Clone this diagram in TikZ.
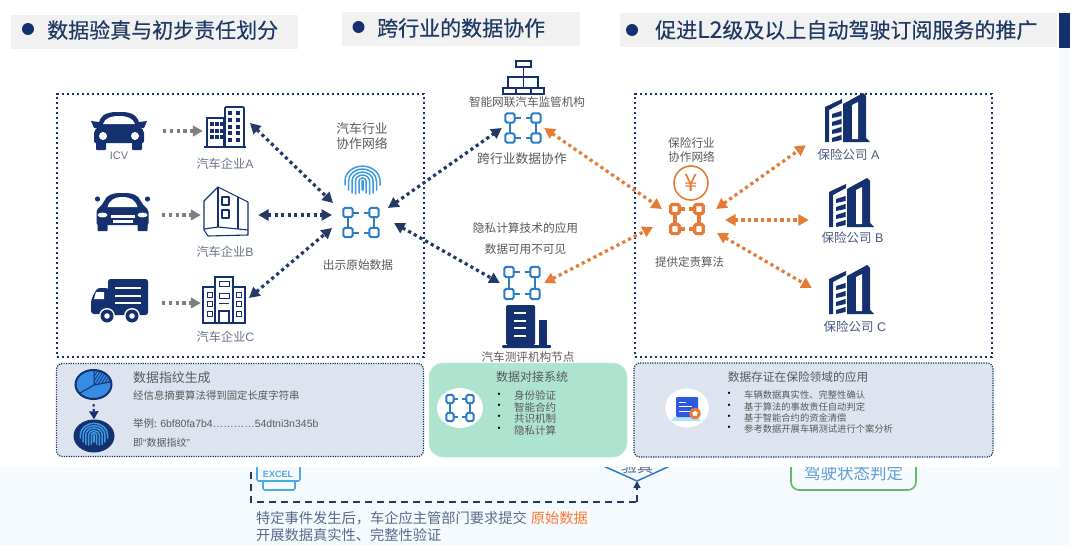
\documentclass[tikz,border=0pt]{standalone}
\usepackage{fontspec}
\setmainfont{Noto Sans CJK SC}
\newfontfamily\headfont[FakeBold=0.35]{Noto Sans CJK SC}
\newfontfamily\arialfont{Liberation Sans}
\usetikzlibrary{arrows.meta,calc,positioning,shapes.geometric}
\definecolor{navy}{HTML}{14306F}
\definecolor{arrownavy}{HTML}{243A66}
\definecolor{headtext}{HTML}{1F3864}
\definecolor{headgray}{HTML}{F1F1F1}
\definecolor{bandblue}{HTML}{F5FAFF}
\definecolor{netblue}{HTML}{2E7CC4}
\definecolor{netorange}{HTML}{E57B36}
\definecolor{tipgray}{HTML}{7F7F7F}
\definecolor{labgray}{HTML}{6A7488}
\definecolor{infofill}{HTML}{DDE4EF}
\definecolor{dockgreen}{HTML}{AEE3D0}
\definecolor{printblue}{HTML}{3C9BE0}
\definecolor{excelblue}{HTML}{4DA8E4}
\definecolor{bandtext}{HTML}{5A6A8A}
\newcommand{\fsz}[1]{\fontsize{#1}{#1}\selectfont}
\newcommand{\chainlw}{2pt}
\tikzset{
  lab/.style={inner sep=0pt,text=labgray,font=\fsz{#1}},
  darktxt/.style={inner sep=0pt,text=black!65,font=\fsz{#1}},
  headbox/.style={fill=headgray,inner sep=0pt},
  headtxt/.style={inner sep=0pt,anchor=west,text=headtext,font=\headfont\fsz{21}},
  iconbox/.style={inner sep=0pt,minimum width=#1},
  panelbox/.style={draw=navy,line width=2.6pt,dash pattern=on 2.4pt off 2.6pt,inner sep=0pt},
  infobox/.style={fill=infofill,draw=navy,line width=1.2pt,dash pattern=on 1.2pt off 1.2pt,rounded corners=6pt,inner sep=0pt},
  dotarrow/.style={line width=3.2pt,dash pattern=on 3.2pt off 3.3pt,>={Triangle[length=10.5pt,width=11pt]},<->},
  graydots/.style={tipgray,line width=3.2pt,dash pattern=on 3.2pt off 3.5pt,-{Triangle[length=10pt,width=10.5pt]}},
  % four linked squares
  pics/chainnet/.style={code={
    \foreach \px/\py in {-13/-10,13/-10,-13/10,13/10}{
      \draw[line width=\chainlw,rounded corners=1.5pt] (\px-4.6,\py-4.6) rectangle (\px+4.6,\py+4.6);
    }
    \foreach \py in {-10,10}{
      \draw[line width=\chainlw] (-8.5,\py) -- (-2.5,\py);
      \draw[line width=\chainlw] (2.5,\py) -- (8.5,\py);
    }
    \foreach \px in {-13,13}{ \draw[line width=\chainlw] (\px,-5.5) -- (\px,5.5); }
  }},
  pics/fingerprint/.style={code={
    \foreach \rr/\hh in {0.5/9,3.5/12,7/13,10.5/12,14/9,17.5/4}{
      \draw[line width=1.5pt,line cap=round] (-\rr,\hh) -- (-\rr,0)
        arc[start angle=180,end angle=0,x radius=\rr pt,y radius=0.85*\rr pt] -- (\rr,\hh);
    }
  }},
  % dark tower with a striped wing
  pics/insurer/.style={code={
    \fill[navy] (0,-35) -- (17,-43) -- (17,-39) -- (4,-32) -- (4,0) -- (0,0) -- cycle;
    \foreach \sy in {-28,-20,-12,-4}{
      \fill[navy] (7,\sy) -- (16.5,\sy-3) -- (16.5,\sy+2) -- (7,\sy+4) -- cycle;
    }
    \fill[navy] (18,-38) -- (38,-49) -- (41,-46) -- (41,-4) -- (45,0) -- (18,0) -- cycle;
    \fill[white] (27,-37) -- (33,-40) -- (33,-3) -- (27,-3) -- cycle;
  }},
}
\begin{document}
\begin{tikzpicture}[x=1pt,y=-1pt]
\useasboundingbox (0,0) rectangle (1080,554);
% band under the main panel
\fill[bandblue] (0,460) rectangle (1070,545);
\fill[bandblue] (1059,40) rectangle (1070,460);
\fill[navy] (1059,13) rectangle (1070,48);
% what shows of the lower slide
\coordinate (dashTop) at (251,460);
\coordinate (dashCorner) at (251,502);
\coordinate (dashEnd) at (637,502);
\coordinate (vTip) at (637,481);
\coordinate (vLeft) at (590,460);
\coordinate (vRight) at (683,460);
\draw[arrownavy,line width=1.5pt,dash pattern=on 7pt off 5pt] (dashTop) -- (dashCorner) -- (dashEnd);
\draw[arrownavy,line width=1.5pt,dash pattern=on 7pt off 5pt,-{Triangle[length=7pt,width=7pt]}] (dashEnd) -- (vTip);
\draw[netblue,line width=1.5pt] (vLeft) -- (vTip) -- (vRight);
\node[lab=16,text=bandtext] (verifyTxt) at (637,466) {验真};
\draw[excelblue,line width=1.6pt,rounded corners=2pt] (257,450) rectangle (300,481);
\draw[excelblue,line width=1.6pt,rounded corners=2pt] (263,481) -- (263,490) -- (295,490) -- (295,481);
\node[inner sep=0pt,text=excelblue,font=\arialfont\bfseries\fsz{9}] (excelTag) at (278,474) {EXCEL};
\draw[green!55!black!60!white,line width=1.6pt,rounded corners=8pt] (791,440) rectangle (916,490);
\node[lab=16.5,text=netblue!75!white] (stateTxt) at (853.5,473) {驾驶状态判定};
\node[lab=14.25,text=bandtext,anchor=west] (eventTxtA) at (256,518) {特定事件发生后，车企应主管部门要求提交\hspace{4pt}\textcolor{orange!70!red!80!white}{原始数据}};
\node[lab=14.25,text=bandtext,anchor=west] (eventTxtB) at (256,535) {开展数据真实性、完整性验证};
% white main panel
\fill[white] (0,0) rectangle (1059,467);
% headings
\node[headbox,minimum width=287pt,minimum height=34pt] (headA) at (154.5,32) {};
\node[headbox,minimum width=238pt,minimum height=34pt] (headB) at (461,29) {};
\node[headbox,minimum width=437pt,minimum height=34pt] (headC) at (838.5,30) {};
\foreach \bx/\by in {28/29,358.5/27,632/30}{ \fill[navy] (\bx,\by) circle[radius=6pt]; }
\node[headtxt] (headTxtA) at (47,30) {数据验真与初步责任划分};
\node[headtxt] (headTxtB) at (377,28) {跨行业的数据协作};
\node[headtxt] (headTxtC) at (655,30) {促进{\fsz{23}L2}级及以上自动驾驶订阅服务的推广};
% dotted panels
\node[panelbox,minimum width=367pt,minimum height=263pt] (panelCar) at (240.5,225.5) {};
\node[panelbox,minimum width=357pt,minimum height=263pt] (panelIns) at (813.5,225.5) {};
\node[infobox,minimum width=367pt,minimum height=93pt] (infoPrint) at (240,410) {};
\node[infobox,minimum width=359pt,minimum height=94pt] (infoIns) at (813.5,410) {};
\node[fill=dockgreen,draw=dockgreen!70!white,line width=1pt,dash pattern=on 1pt off 1pt,rounded corners=14pt,inner sep=0pt,minimum width=198pt,minimum height=94pt] (infoDock) at (528,410) {};
% anchors of the icons
\node[iconbox=88pt] (carIcv) at (119,131) {};
\node[iconbox=80pt] (carSedan) at (122,215) {};
\node[iconbox=84pt] (carTruck) at (120,303) {};
\node[iconbox=47pt] (firmA) at (226.5,131) {};
\node[iconbox=57pt] (firmB) at (229.5,215) {};
\node[iconbox=48pt] (firmC) at (225,303) {};
\node[iconbox=58pt] (netCar) at (361,222.5) {};
\node[iconbox=42pt] (netReg) at (523,128) {};
\node[iconbox=44pt] (netTest) at (522,283) {};
\node[iconbox=50pt] (netIns) at (687,219) {};
\node[iconbox=82pt,minimum height=54pt] (insA) at (847,118) {};
\node[iconbox=86pt] (insB) at (852,220) {};
\node[iconbox=80pt] (insC) at (852,288) {};
% gray arrows
\draw[graydots] (carIcv.east) -- (firmA.west);
\draw[graydots] (carSedan.east) -- (firmB.west);
\draw[graydots] (carTruck.east) -- (firmC.west);
% navy arrows
\draw[dotarrow,arrownavy] ([shift={(23.5,-8)}]firmA.center) -- ([shift={(-28,-19.5)}]netCar.center);
\draw[dotarrow,arrownavy] (firmB.east) -- ([shift={(-29,-7.5)}]netCar.center);
\draw[dotarrow,arrownavy] ([shift={(24,-5)}]firmC.center) -- ([shift={(-29,5.5)}]netCar.center);
\draw[dotarrow,arrownavy] ([shift={(27,-14.5)}]netCar.center) -- (netReg.west);
\draw[dotarrow,arrownavy] ([shift={(33,0.5)}]netCar.center) -- (netTest.west);
% orange arrows
\draw[dotarrow,netorange] (netReg.east) -- ([shift={(-25,-10)}]netIns.center);
\draw[dotarrow,netorange] (netTest.east) -- ([shift={(-34,8)}]netIns.center);
\draw[dotarrow,netorange] ([shift={(29,-10)}]netIns.center) -- (insA.south west);
\draw[dotarrow,netorange] ([shift={(38,1)}]netIns.center) -- (insB.west);
\draw[dotarrow,netorange] ([shift={(30,14)}]netIns.center) -- (insC.west);
% chain icons
\pic[netblue] at (netCar) {chainnet};
\pic[netblue] at (netReg) {chainnet};
\pic[netblue,yscale=1.1] at (netTest) {chainnet};
\begingroup
\renewcommand{\chainlw}{3.2pt}
\pic[netorange,xscale=0.92] at (netIns) {chainnet};
\endgroup
\pic[printblue] at (362.5,181) {fingerprint};
% sedan seen from the front
\begin{scope}[shift={(119,131)},navy]
  \fill (-28,-10) -- (-20,-9) -- (-20,-3) -- (-25,-3) -- cycle;
  \fill (28,-10) -- (20,-9) -- (20,-3) -- (25,-3) -- cycle;
  \fill[rounded corners=2pt] (-21,-4) .. controls (-19,-15) and (-14,-19) .. (0,-19) .. controls (14,-19) and (19,-15) .. (21,-4) -- (25,0) -- (25,12) -- (-25,12) -- (-25,0) -- cycle;
  \fill[rounded corners=1pt] (-23,8) rectangle (-13,19);
  \fill[rounded corners=1pt] (13,8) rectangle (23,19);
  \fill[white] (-16,-7) .. controls (-14,-13) and (-8,-15) .. (0,-15) .. controls (8,-15) and (14,-13) .. (16,-7) -- cycle;
  \fill[white] (-16,5) circle[radius=4pt];
  \fill[white] (16,5) circle[radius=4pt];
\end{scope}
% second sedan, with a grille
\begin{scope}[shift={(122.5,212)},navy]
  \fill (-25,-13) circle[radius=2.6pt];
  \fill (25,-13) circle[radius=2.6pt];
  \fill[rounded corners=2pt] (-19,-9) .. controls (-16,-17) and (-10,-19) .. (0,-19) .. controls (10,-19) and (16,-17) .. (19,-9) -- (26,-2) -- (26,13) -- (-26,13) -- (-26,-2) -- cycle;
  \fill[rounded corners=1pt] (-25,10) rectangle (-15,19);
  \fill[rounded corners=1pt] (15,10) rectangle (25,19);
  \fill[white] (-15,-5) .. controls (-13,-12) and (-8,-15) .. (0,-15) .. controls (8,-15) and (13,-12) .. (15,-5) -- cycle;
  \fill[white] (-20,3) ellipse[x radius=5pt,y radius=2.4pt];
  \fill[white] (20,3) ellipse[x radius=5pt,y radius=2.4pt];
  \fill[white] (-12,3) rectangle (12,5.5);
  \fill[white] (-10,8) rectangle (10,10.5);
\end{scope}
% truck
\begin{scope}[navy]
  \fill[rounded corners=2.5pt] (108,279) rectangle (148,315);
  \fill[rounded corners=3pt] (109,288) -- (97,288) -- (91,300) -- (91,314) -- (109,314) -- cycle;
  \fill[white] (96,292) -- (104,292) -- (104,299) -- (94,299) -- cycle;
  \foreach \ly in {288,296,303}{ \fill[white] (115,\ly-1.3) rectangle (141,\ly+1.3); }
  \foreach \wx in {107,132}{
    \fill[white] (\wx,316) circle[radius=8pt];
    \fill (\wx,316) circle[radius=6.5pt];
    \fill[white] (\wx,316) circle[radius=2.8pt];
  }
\end{scope}
% firm A, twin blocks
\begin{scope}[navy]
  \draw[line width=1.8pt] (204,147) -- (246,147);
  \draw[line width=1.6pt] (207,147) -- (207,118) -- (224,118) -- (224,147);
  \draw[line width=1.6pt,rounded corners=1pt] (225,147) -- (225,107) -- (244,107) -- (244,147);
  \foreach \wx in {212,217,222}{ \foreach \wy in {124,131,137}{ \fill (\wx-1.7,\wy-1.7) rectangle (\wx+1.7,\wy+1.7); } }
  \foreach \wx in {230,238}{ \foreach \wy in {113,120,127,133,140}{ \fill (\wx-2,\wy-1.7) rectangle (\wx+2,\wy+1.7); } }
\end{scope}
% firm B, corner building
\begin{scope}[navy,line width=1.1pt,line join=round]
  \draw (204,230) -- (204,201) -- (218,187) -- (238,197) -- (248,202) -- (248,235) -- (208,236) -- (204,230);
  \draw (218,187) -- (218,227) (238,197) -- (238,229);
  \draw (204,229) -- (218,227) -- (248,230);
  \draw (222,197) rectangle (229,205);
  \draw (222,210) rectangle (229,218);
\end{scope}
% firm C, office block
\begin{scope}[navy,line width=1.5pt]
  \draw (203,287) rectangle (245,323);
  \draw[fill=white] (215,277) rectangle (233,323);
  \draw (219,323) -- (219,311) -- (229,311) -- (229,323);
  \foreach \wy in {292,301}{ \draw[line width=1pt] (207,\wy) rectangle (212,\wy+5); \draw[line width=1pt] (236,\wy) rectangle (241,\wy+5); }
  \draw[line width=1pt] (207,311) rectangle (212,316);
  \draw[line width=1pt] (236,311) rectangle (241,316);
  \draw[line width=1pt] (219,281) rectangle (229,286);
  \draw[line width=1pt] (219,293) rectangle (229,298);
  \draw[line width=1pt] (219,303) -- (229,303);
\end{scope}
% supervisor tree
\begin{scope}[navy,line width=1.6pt]
  \draw (516,61) rectangle (531,67);
  \draw (523.5,67) -- (523.5,77);
  \draw (508,77) rectangle (538,88);
  \draw (523.5,77) -- (523.5,88);
  \draw (503,88) rectangle (544,94);
  \draw (516,88) -- (516,94) (531,88) -- (531,94);
\end{scope}
% test centre block
\begin{scope}[navy]
  \fill[rounded corners=1.5pt] (506,345) -- (506,305) -- (535,305) -- (535,345) -- cycle;
  \fill (539,320) rectangle (547,345);
  \fill[rounded corners=1pt] (502,345) rectangle (551,348);
  \foreach \ly in {313,321,328,336}{ \fill[white] (514,\ly-1) rectangle (526,\ly+1); }
\end{scope}
% insurers
\pic at (825,142) {insurer};
\pic at (829,227) {insurer};
\pic at (829,314) {insurer};
% coin
\node[circle,draw=netorange,line width=1.6pt,minimum size=34pt,inner sep=0pt,text=netorange,font=\fsz{24}] (coin) at (691,183) {¥};
% pie and fingerprint badge
\node[ellipse,draw=navy,fill=printblue!90!blue,line width=2pt,minimum width=36pt,minimum height=29pt,inner sep=0pt] (pieIcon) at (93.5,384.5) {};
\draw[navy,line width=1pt] (94,371) -- (94,385) -- (110,382);
\draw[navy,line width=1pt] (94,385) -- (80,393);
\begin{scope}
  \clip (94,385) -- (94,371) .. controls (102,371) and (110,376) .. (110.5,382) -- cycle;
  \foreach \hx in {-6,-3,0,3,6,9,12}{ \draw[navy,line width=.7pt] (94+\hx,386) -- (104+\hx,370); }
\end{scope}
\node[ellipse,fill=navy,minimum width=41pt,minimum height=33pt,inner sep=0pt] (fpIcon) at (94,436) {};
\pic[printblue,scale=0.78] at (94,435) {fingerprint};
\draw[navy,line width=2pt,dash pattern=on 2.6pt off 2.4pt,shorten <=4pt,-{Triangle[length=8pt,width=9pt]}] (pieIcon.south) -- (fpIcon.north);
% white discs in the info boxes
\node[ellipse,fill=white,minimum width=46pt,minimum height=40pt,inner sep=0pt] (discDock) at (460,408) {};
\pic[netblue,xscale=0.77,yscale=0.9] at (460,408) {chainnet};
\node[ellipse,fill=white,minimum width=44pt,minimum height=39pt,inner sep=0pt] (discIns) at (687,408) {};
\fill[blue!40!cyan!30!white] (674,417) -- (698,417) -- (701,421) -- (671,421) -- cycle;
\fill[netblue!55!blue!90!white,rounded corners=1pt] (676,397) rectangle (698,417);
\foreach \ly/\lx in {402/686,406/692,411/692}{ \draw[white,line width=1pt] (679,\ly) -- (\lx,\ly); }
\fill[netorange] (695,413.5) circle[radius=5.7pt];
\node[star,star points=5,fill=white,minimum size=6pt,inner sep=0pt] (discStar) at (695,413.5) {};
% labels of the car panel
\node[lab=11] (icvTxt) at (119,156) {\arialfont ICV};
\foreach \lx/\ly/\nm in {225/164/A,225/252/B,225.5/337/C}{
  \node[lab=12.2] (firmTxt\nm) at (\lx,\ly) {汽车企业\arialfont\nm};
}
\node[darktxt=12.8] (carNetA) at (362,129) {汽车行业};
\node[darktxt=12.8] (carNetB) at (362,144) {协作网络};
\node[darktxt=11.7] (showTxt) at (358,265) {出示原始数据};
% labels of the middle column
\node[darktxt=11.6] (regTxt) at (527,102) {智能网联汽车监管机构};
\node[darktxt=12.8] (crossTxt) at (522,159) {跨行业数据协作};
\node[darktxt=11.7] (privTxtA) at (525.5,228) {隐私计算技术的应用};
\node[darktxt=11.6] (privTxtB) at (525.5,249) {数据可用不可见};
\node[darktxt=11.6] (testTxt) at (528,357) {汽车测评机构节点};
% labels of the insurance panel
\node[darktxt=11.7] (insNetA) at (691.5,143) {保险行业};
\node[darktxt=11.7] (insNetB) at (691.5,157) {协作网络};
\node[darktxt=11.5] (algoTxt) at (689.5,262) {提供定责算法};
\foreach \lx/\ly/\nm in {848.5/155/A,852.5/238/B,855/327/C}{
  \node[lab=12.5,text=labgray!60!navy] (insTxt\nm) at (\lx,\ly) {保险公司\hspace{3.5pt}{\arialfont\nm}};
}
% text of the left info box
\node[darktxt=12.9,anchor=west] (printHead) at (133,378) {数据指纹生成};
\node[darktxt=10.4,anchor=west] (printLineA) at (133,396) {经信息摘要算法得到固定长度字符串};
\node[darktxt=10.5,anchor=west] (printLineB) at (133,423) {举例: {\arialfont 6bf80fa7b4…………54dtni3n345b}};
\node[darktxt=10,anchor=west] (printLineC) at (133,443) {即{\arialfont“}数据指纹{\arialfont”}};
% text of the green box
\node[darktxt=12] (dockHead) at (532,377) {数据对接系统};
\foreach \ly/\item [count=\ii] in {396/身份验证,407.3/智能合约,418.3/共识机制,430/隐私计算}{
  \node[inner sep=0pt,font=\fsz{11}] (dockDot\ii) at (499,\ly) {•};
  \node[darktxt=10.5,anchor=west] (dockItem\ii) at (514,\ly) {\item};
}
% text of the right info box
\node[darktxt=11.7] (insHead) at (798,377) {数据存证在保险领域的应用};
\foreach \ly/\item [count=\ii] in {395/车辆数据真实性、完整性确认,406.5/基于算法的事故责任自动判定,418/基于智能合约的资金清偿,429/参考数据开展车辆测试进行个案分析}{
  \node[inner sep=0pt,font=\fsz{11}] (insDot\ii) at (729,\ly) {•};
  \node[darktxt=9.3,anchor=west] (insItem\ii) at (744,\ly) {\item};
}
\end{tikzpicture}
\end{document}
